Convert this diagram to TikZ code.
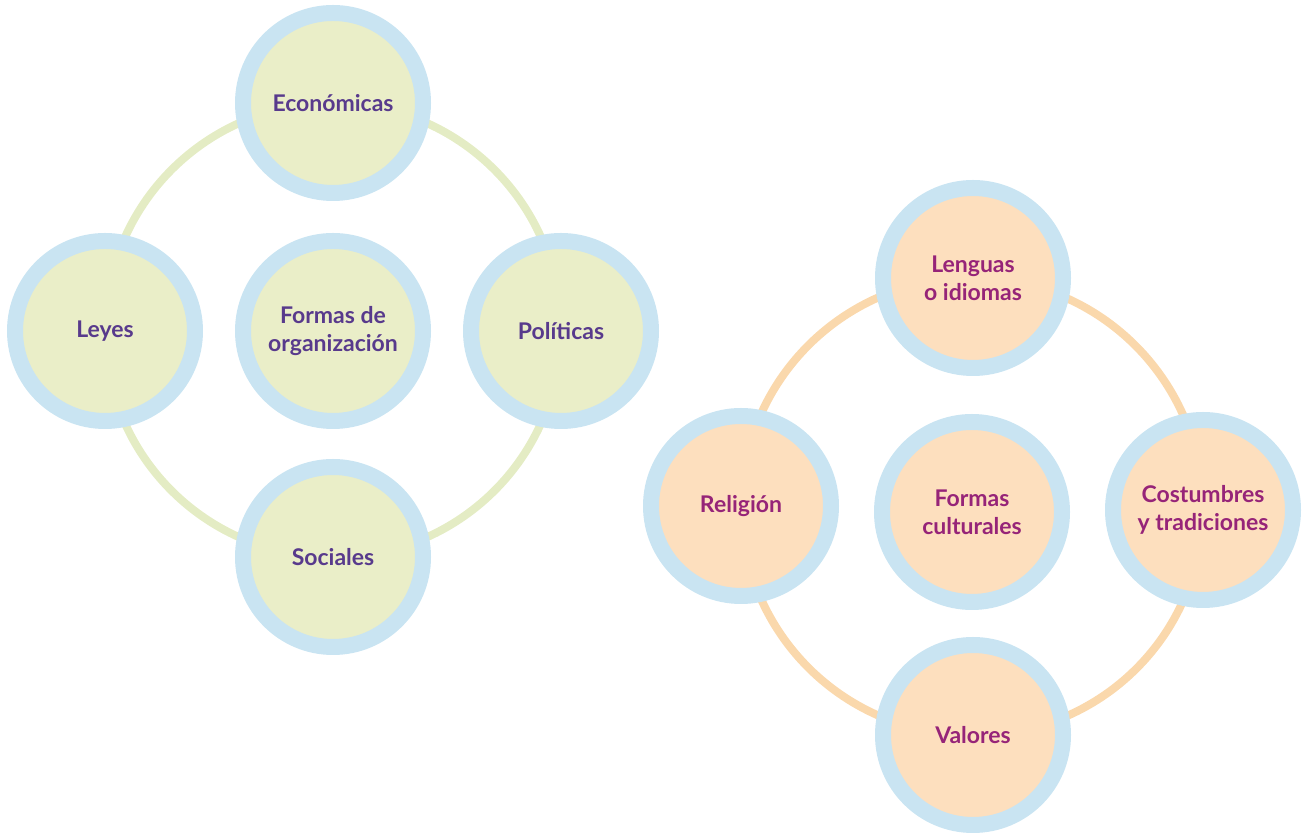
\documentclass[tikz,border=0pt]{standalone}
\usepackage{fontspec}
\setmainfont{Lato}
\usepackage{tikz}
\usetikzlibrary{backgrounds}

\definecolor{ringblue}{RGB}{201,228,242}
\definecolor{orgfill}{RGB}{234,238,200}
\definecolor{orgline}{RGB}{228,236,196}
\definecolor{orgtext}{RGB}{88,58,140}
\definecolor{cultfill}{RGB}{253,223,190}
\definecolor{cultline}{RGB}{250,216,172}
\definecolor{culttext}{RGB}{150,36,120}

\begin{document}
\begin{tikzpicture}[
    x=1pt, y=1pt,
    bubble/.style={circle, draw=ringblue, line width=16pt, minimum size=180pt,
        inner sep=0pt, align=center, font=\fontsize{23}{28}\selectfont\bfseries},
    orgbubble/.style={bubble, fill=orgfill, text=orgtext},
    cultbubble/.style={bubble, fill=cultfill, text=culttext},
    orgring/.style={draw=orgline, line width=8pt},
    cultring/.style={draw=cultline, line width=8pt}
]
\useasboundingbox (0,0) rectangle (1307,837);

% formas de organizacion
\node[orgbubble] (org) at (333,506) {Formas de\\organización};
\node[orgbubble] (eco) at (333,734) {Económicas};
\node[orgbubble] (pol) at (561,506) {Políticas};
\node[orgbubble] (soc) at (333,280) {Sociales};
\node[orgbubble] (ley) at (105,506) {Leyes};

% formas culturales
\node[cultbubble] (cul) at (972,325) {Formas\\culturales};
\node[cultbubble] (len) at (973,559) {Lenguas\\o idiomas};
\node[cultbubble] (cos) at (1203,327) {Costumbres\\y tradiciones};
\node[cultbubble] (val) at (973,102) {Valores};
\node[cultbubble] (rel) at (741,331) {Religión};

\begin{scope}[on background layer]
\foreach \a/\b in {eco/pol, pol/soc, soc/ley, ley/eco}
    \draw[orgring] (\a.center) to[bend left=45] (\b.center);
\foreach \a/\b in {len/cos, cos/val, val/rel, rel/len}
    \draw[cultring] (\a.center) to[bend left=45] (\b.center);
\end{scope}
\end{tikzpicture}
\end{document}
